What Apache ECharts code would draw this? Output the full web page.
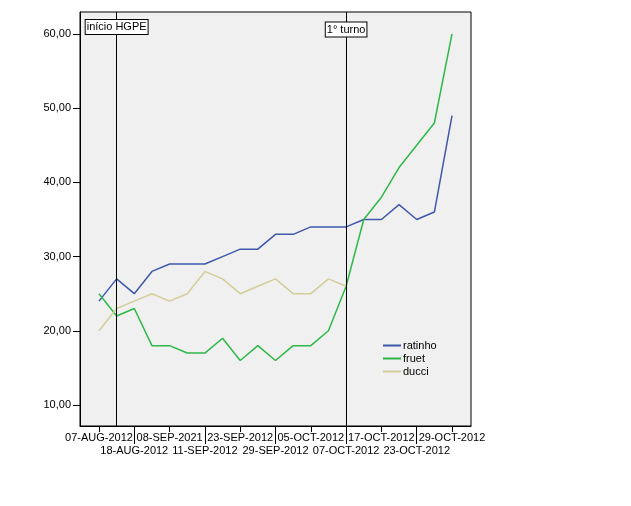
<!DOCTYPE html>
<html>
<head>
<meta charset="utf-8">
<script src="https://cdn.jsdelivr.net/npm/echarts@6/dist/echarts.min.js"></script>
<style>html,body{margin:0;padding:0;background:#fff}#c{width:631px;height:506px}</style>
</head>
<body>
<div id="c"></div>
<script>
const categories = ['07-AUG-2012','','18-AUG-2012','','08-SEP-2021','','11-SEP-2012','','23-SEP-2012','','29-SEP-2012','','05-OCT-2012','','07-OCT-2012','','17-OCT-2012','','23-OCT-2012','','29-OCT-2012'];
const ratinho = [24,27,25,28,29,29,29,30,31,31,33,33,34,34,34,35,35,37,35,36,49];
const fruet   = [25,22,23,18,18,17,17,19,16,18,16,18,18,20,26,35,38,42,45,48,60];
const ducci   = [20,23,24,25,24,25,28,27,25,26,27,25,25,27,26];
const yTicks = [10,20,30,40,50,60];
const labelRow1 = [0,4,8,12,16,20];
const labelRow2 = [2,6,10,14,18];
const eventIdx = [1,14];
const eventLabels = ['início HGPE','1° turno'];
const eventLabelY = [60.94,60.6];

const font = 'Liberation Sans, Arial, sans-serif';
const toPairs = arr => arr.map((v,i)=>[i,v]);
const xMin = -1.076, xMax = 21.076;

const chart = echarts.init(document.getElementById('c'));
chart.setOption({
  animation:false,
  backgroundColor:'#fff',
  textStyle:{fontFamily:font},
  grid:{left:80, top:12, right:160, bottom:80, show:true, backgroundColor:'#f0f0f0', borderColor:'#000', borderWidth:1},
  legend:{
    orient:'vertical', left:378, top:334, icon:'rect', itemWidth:18, itemHeight:2, itemGap:0,
    textStyle:{fontFamily:font, fontSize:11, color:'#000', lineHeight:13, padding:[0,0,0,-3]},
    data:['ratinho','fruet','ducci']
  },
  xAxis:[
    {type:'value', min:xMin, max:xMax, gridIndex:0, position:'bottom',
     splitLine:{show:false},
     axisLine:{show:true, onZero:false, lineStyle:{color:'#000'}},
     axisTick:{show:true, customValues:labelRow1, length:6, lineStyle:{color:'#000'}},
     axisLabel:{show:true, customValues:labelRow1, margin:6, color:'#000', fontSize:11, fontFamily:font,
       formatter:v=>categories[Math.round(v)]}},
    {type:'value', min:xMin, max:xMax, gridIndex:0, position:'bottom',
     splitLine:{show:false},
     axisLine:{show:false, onZero:false},
     axisTick:{show:true, customValues:labelRow2, length:18, lineStyle:{color:'#000'}},
     axisLabel:{show:true, customValues:labelRow2, margin:19, color:'#000', fontSize:11, fontFamily:font,
       formatter:v=>categories[Math.round(v)]}}
  ],
  yAxis:{type:'value', min:7.17, max:62.96, position:'left',
    splitLine:{show:false},
    axisLine:{show:true, onZero:false, lineStyle:{color:'#000'}},
    axisTick:{show:true, customValues:yTicks, length:7, lineStyle:{color:'#000'}},
    axisLabel:{customValues:yTicks, margin:9, color:'#000', fontSize:11, fontFamily:font,
      formatter:v=>v.toFixed(2).replace('.',',')}},
  series:[
    {name:'ratinho', type:'line', data:toPairs(ratinho), showSymbol:false, symbol:'none',
     lineStyle:{color:'#3e58ac', width:1.5}, itemStyle:{color:'#3e58ac'},
     markLine:{silent:true, symbol:'none', label:{show:false},
       lineStyle:{color:'#000', type:'solid', width:1},
       data:eventIdx.map(x=>({xAxis:x}))},
     markPoint:{silent:true, symbol:'rect', symbolSize:1, itemStyle:{color:'rgba(0,0,0,0)'},
       label:{show:true, position:'inside', formatter:'{b}', color:'#000', fontSize:11, fontFamily:font,
         backgroundColor:'#fff', borderColor:'#000', borderWidth:1, padding:[2,1,1,1]},
       data:eventIdx.map((x,i)=>({name:eventLabels[i], coord:[x, eventLabelY[i]]}))}
    },
    {name:'fruet', type:'line', data:toPairs(fruet), showSymbol:false, symbol:'none',
     lineStyle:{color:'#2eb848', width:1.5}, itemStyle:{color:'#2eb848'}},
    {name:'ducci', type:'line', data:toPairs(ducci), showSymbol:false, symbol:'none',
     lineStyle:{color:'#d3ce97', width:1.5}, itemStyle:{color:'#d3ce97'}}
  ]
});
</script>
</body>
</html>
